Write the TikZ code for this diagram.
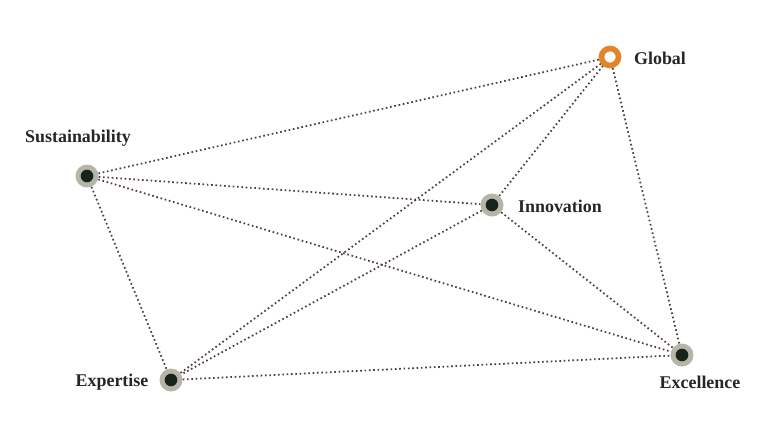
\documentclass[tikz,border=0pt]{standalone}
\usepackage{fontspec}
\setmainfont{Liberation Serif}
\definecolor{gris}{RGB}{182,182,168}
\definecolor{noir}{RGB}{22,36,28}
\definecolor{orange}{RGB}{226,132,42}
\definecolor{trait}{RGB}{80,62,62}
\tikzset{
  point/.style={circle, fill=gris, minimum size=23*0.03cm, inner sep=0pt,
    path picture={\fill[noir] (path picture bounding box.center) circle (0.19cm);}},
  pointglobal/.style={circle, draw=orange, line width=0.17cm, fill=white,
    minimum size=17*0.03cm, inner sep=0pt},
  lien/.style={draw=trait, line width=1.5pt, dash pattern=on 1.4pt off 2.3pt},
  etiquette/.style={font=\fontsize{15.3}{17}\selectfont\bfseries, text=black!85}
}
\begin{document}
\begin{tikzpicture}[x=0.03cm, y=-0.03cm]
  \useasboundingbox (0,0) rectangle (763,434);

  % Les points
  \node[pointglobal] (G) at (610,57) {};
  \node[point] (S) at (87,176) {};
  \node[point] (I) at (492,205) {};
  \node[point] (P) at (171,380) {};
  \node[point] (X) at (682,355) {};

  % Les liens
  \draw[lien] (S) -- (G);
  \draw[lien] (S) -- (I);
  \draw[lien] (S) -- (X);
  \draw[lien] (S) -- (P);
  \draw[lien] (G) -- (I);
  \draw[lien] (G) -- (P);
  \draw[lien] (G) -- (X);
  \draw[lien] (I) -- (P);
  \draw[lien] (I) -- (X);
  \draw[lien] (P) -- (X);

  % Les mots
  \node[etiquette] (tG) at (660,58) {Global};
  \node[etiquette] (tS) at (78,138) {Sustainability};
  \node[etiquette] (tI) at (560,206) {Innovation};
  \node[etiquette] (tP) at (112,382) {Expertise};
  \node[etiquette] (tX) at (700,382) {Excellence};

\end{tikzpicture}
\end{document}
